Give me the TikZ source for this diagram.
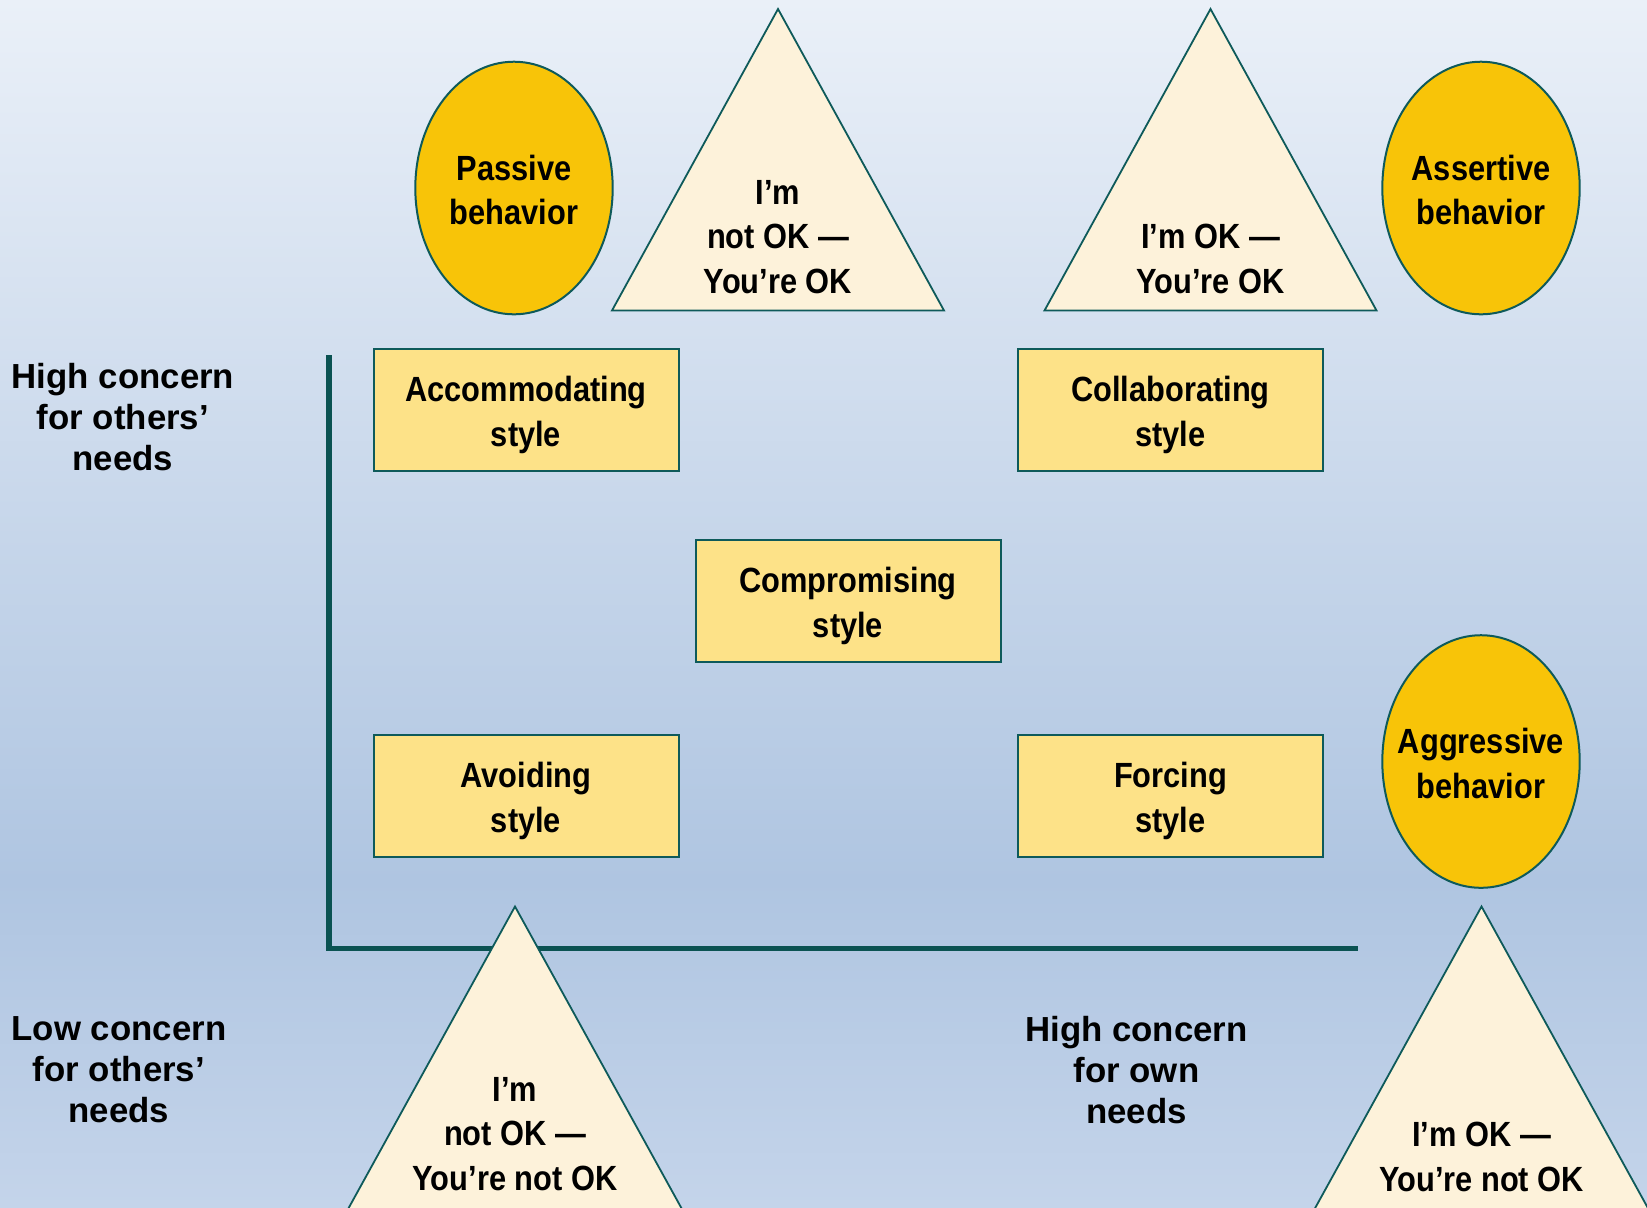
\documentclass[tikz,border=0pt]{standalone}
\usepackage{fontspec}
\setmainfont{Liberation Sans}[FakeStretch=0.88]
\newfontfamily\axisfont{Liberation Sans}[FakeStretch=1.0]
\usetikzlibrary{shapes.geometric}

\definecolor{bgtop}{HTML}{EAF0F8}
\definecolor{bgmid}{HTML}{AFC5E1}
\definecolor{bgbot}{HTML}{C4D4EA}
\definecolor{edge}{HTML}{0E5A5A}
\definecolor{axisline}{HTML}{0A5252}
\definecolor{gold}{HTML}{F8C408}
\definecolor{boxfill}{HTML}{FDE288}
\definecolor{parchment}{HTML}{FDF2DA}

\tikzset{
  labeltext/.style={align=center, inner sep=0pt,
    font=\bfseries\fontsize{17.5}{22.4}\selectfont},
  stylebox/.style={draw=edge, line width=1pt, fill=boxfill,
    minimum width=152.5pt, minimum height=61pt, inner sep=0pt},
  behaviour/.style={draw=edge, line width=1pt, fill=gold},
  okfield/.style={draw=edge, line width=0.9pt, fill=parchment, line join=miter},
  concern/.style={align=center, inner sep=0pt,
    font=\axisfont\bfseries\fontsize{17.4}{20.5}\selectfont},
  axis/.style={draw=axisline, line width=2.6pt}
}

\begin{document}
\begin{tikzpicture}[x=0.5pt, y=-0.5pt]
  \useasboundingbox (0,0) rectangle (1647,1207);

  % background
  \shade[top color=bgtop, bottom color=bgmid] (0,0) rectangle (1647,881);
  \shade[top color=bgmid, bottom color=bgbot] (0,880) rectangle (1647,1207);

  % axes
  \coordinate (ytop) at (329,355);
  \coordinate (origin) at (329,948.5);
  \coordinate (xend) at (1358,948.5);
  \draw[axis] (ytop) -- (origin) -- (xend);

  % upper triangles
  \coordinate (t1a) at (778,9);
  \coordinate (t1l) at (612,310.5);
  \coordinate (t1r) at (944,310.5);
  \draw[okfield] (t1a) -- (t1l) -- (t1r) -- cycle;
  \node[labeltext] (t1txt) at (778,237) {I’m\\not OK —\\You’re OK};

  \coordinate (t2a) at (1210.5,9);
  \coordinate (t2l) at (1044.5,310.5);
  \coordinate (t2r) at (1376.5,310.5);
  \draw[okfield] (t2a) -- (t2l) -- (t2r) -- cycle;
  \node[labeltext] (t2txt) at (1210.5,259) {I’m OK —\\You’re OK};

  % lower triangles
  \coordinate (t3a) at (515,906.5);
  \coordinate (t3l) at (342,1220);
  \coordinate (t3r) at (688,1220);
  \draw[okfield] (t3a) -- (t3l) -- (t3r) -- cycle;
  \node[labeltext] (t3txt) at (515,1134) {I’m\\not OK —\\You’re not OK};

  \coordinate (t4a) at (1481.5,906.5);
  \coordinate (t4l) at (1308.5,1220);
  \coordinate (t4r) at (1654.5,1220);
  \draw[okfield] (t4a) -- (t4l) -- (t4r) -- cycle;
  \node[labeltext] (t4txt) at (1481.5,1157) {I’m OK —\\You’re not OK};

  % behaviours: ellipses of one size, captions on top
  \coordinate (passivec) at (514,188);
  \coordinate (assertivec) at (1481,188);
  \coordinate (aggressivec) at (1481,761.5);
  \foreach \c in {passivec, assertivec, aggressivec}
    \draw[behaviour] (\c) ellipse [x radius=98.7, y radius=126.3];
  \node[labeltext] (passive) at (514,190) {Passive\\behavior};
  \node[labeltext] (assertive) at (1481,190) {Assertive\\behavior};
  \node[labeltext] (aggressive) at (1481,763.5) {Aggressive\\behavior};

  % conflict styles: frames, then their captions
  \node[stylebox] (accommodating) at (526,410) {};
  \node[stylebox] (collaborating) at (1170.5,410) {};
  \node[stylebox] (compromising) at (848,601) {};
  \node[stylebox] (avoiding) at (526,796) {};
  \node[stylebox] (forcing) at (1170.5,796) {};
  \node[labeltext] (accommodatingtxt) at (526,415) {Accommodating\\style};
  \node[labeltext] (collaboratingtxt) at (1170.5,415) {Collaborating\\style};
  \node[labeltext] (compromisingtxt) at (848,606) {Compromising\\style};
  \node[labeltext] (avoidingtxt) at (526,801) {Avoiding\\style};
  \node[labeltext] (forcingtxt) at (1170.5,801) {Forcing\\style};

  % axis captions
  \node[concern] (highothers) at (123,417) {High concern\\for others’\\needs};
  \node[concern] (lowothers) at (119,1070) {Low concern\\for others’\\needs};
  \node[concern] (highown) at (1136.5,1070) {High concern\\for own\\needs};
\end{tikzpicture}
\end{document}
